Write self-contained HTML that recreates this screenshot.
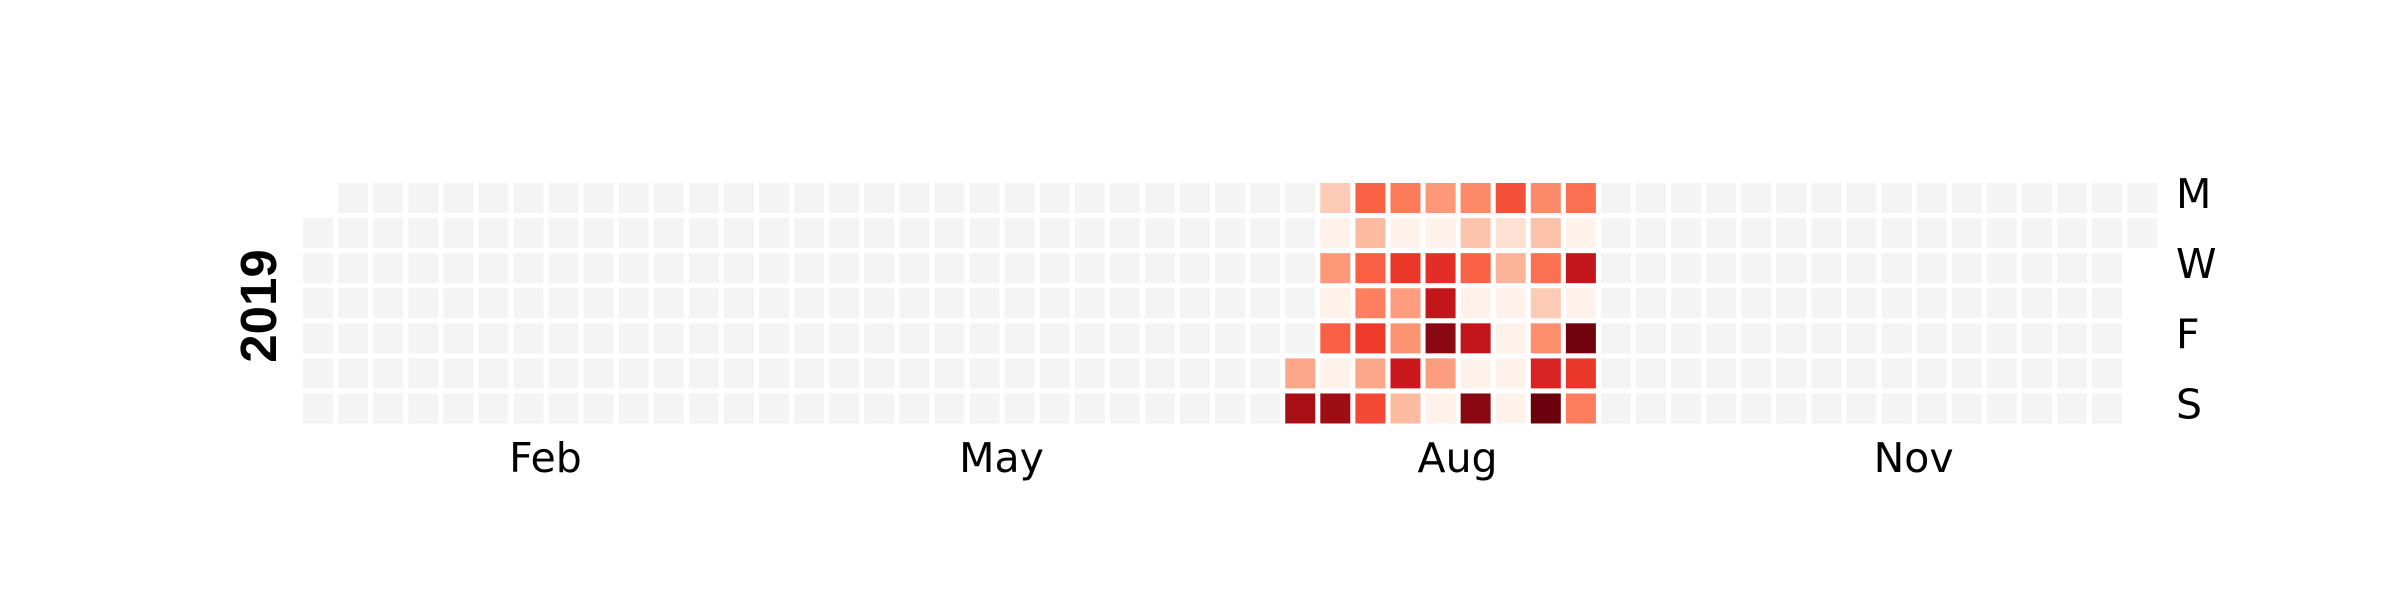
<!DOCTYPE html>
<html><head><meta charset="utf-8"><style>
html,body{margin:0;padding:0;background:#fff;}
svg{display:block;}
text{font-family:"DejaVu Sans","Liberation Sans",sans-serif;}
</style></head><body>
<svg id="chart" width="2400" height="600" viewBox="0 0 2400 600" xmlns="http://www.w3.org/2000/svg">
<g id="cells"></g>
<g id="labels"></g>
</svg>
<script>
const year = 2019;
const startDayIndex = 200; // July 20
const values = [0.31,0.87,
0.2,0.02,0.36,0.02,0.53,0.02,0.89,
0.52,0.25,0.53,0.43,0.63,0.31,0.59,
0.45,0.02,0.64,0.34,0.37,0.75,0.25,
0.36,0.02,0.67,0.78,0.93,0.34,0.02,
0.4,0.22,0.52,0.02,0.78,0.02,0.93,
0.57,0.12,0.27,0.02,0.02,0.02,0.02,
0.4,0.23,0.48,0.2,0.39,0.71,0.99,
0.48,0.02,0.78,0.02,0.98,0.64,0.44];
const dayLabels = ["M","W","F","S"];
const dayLabelRows = [0,2,4,6];
const monthLabels = ["Feb","May","Aug","Nov"];
const monthMonths = [1,4,7,10];

const NS="http://www.w3.org/2000/svg";
const x0=303, y0=183, pitch=35.08, size=30;
function colX(c){return x0+c*pitch;}
function rowY(r){return y0+r*pitch;}
const stops=["#fff5f0","#fee0d2","#fcbba1","#fc9272","#fb6a4a","#ef3b2c","#cb181d","#a50f15","#67000d"];
function hex(h){return [1,3,5].map(i=>parseInt(h.substr(i,2),16));}
function cmap(v){
  v=Math.max(0,Math.min(1,v));const t=v*(stops.length-1);const i=Math.min(Math.floor(t),stops.length-2);const f=t-i;
  const a=hex(stops[i]),b=hex(stops[i+1]);
  return "rgb("+a.map((x,k)=>Math.round(x+(b[k]-x)*f)).join(",")+")";
}
const jan1=new Date(Date.UTC(year,0,1));
const offset=(jan1.getUTCDay()+6)%7; // Monday=0
const nDays=365;
const cells=document.getElementById('cells');
for(let d=0;d<nDays;d++){
  const k=d+offset;const c=Math.floor(k/7),r=k%7;
  const idx=d-startDayIndex;
  const v=(idx>=0&&idx<values.length)?values[idx]:null;
  const rect=document.createElementNS(NS,'rect');
  
  
  rect.setAttribute('x',colX(c));rect.setAttribute('y',rowY(r));
  rect.setAttribute('width',size);rect.setAttribute('height',size);
  rect.setAttribute('fill',v===null?'#f4f4f4':cmap(v));
  cells.appendChild(rect);
}
const labels=document.getElementById('labels');
dayLabels.forEach((t,i)=>{
  const e=document.createElementNS(NS,'text');
  
  
  e.setAttribute('x',2176);e.setAttribute('y',rowY(dayLabelRows[i])+size/2+10);
  e.setAttribute('font-size','41');e.textContent=t;labels.appendChild(e);
});
monthLabels.forEach((t,i)=>{
  const m=monthMonths[i];
  const first=(Date.UTC(year,m,1)-jan1)/864e5, last=(Date.UTC(year,m+1,1)-jan1)/864e5-1;
  const c1=Math.floor((first+offset)/7), c2=Math.floor((last+offset)/7);
  const cx=(colX(c1)+colX(c2)+size)/2+17;
  const e=document.createElementNS(NS,'text');
  
  
  e.setAttribute('x',cx);e.setAttribute('y',472);e.setAttribute('text-anchor','middle');
  e.setAttribute('font-size','41');e.textContent=t;labels.appendChild(e);
});
const yl=document.createElementNS(NS,'text');


yl.setAttribute('transform','translate(276,306) rotate(-90)');
yl.setAttribute('text-anchor','middle');yl.setAttribute('font-size','51');yl.setAttribute('font-weight','bold');
yl.setAttribute('style','font-family:"Liberation Sans",sans-serif');
yl.textContent=String(year);labels.appendChild(yl);
</script>
</body></html>
